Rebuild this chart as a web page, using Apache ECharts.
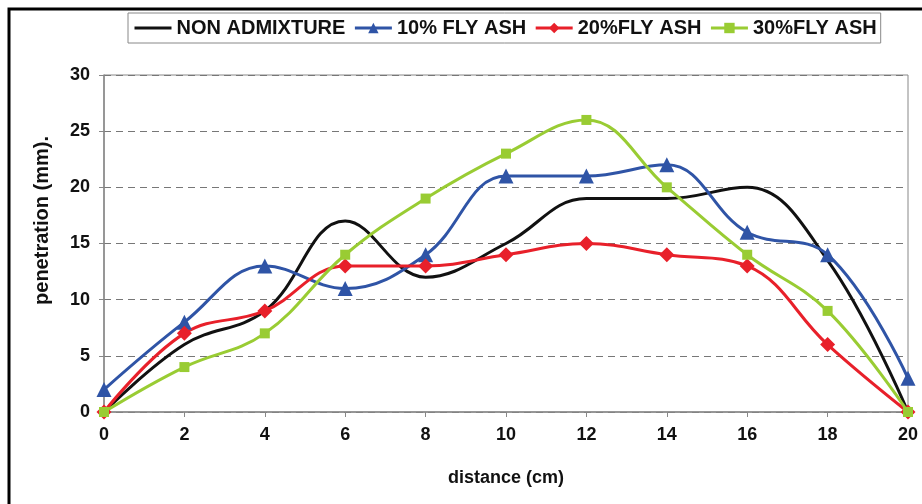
<!DOCTYPE html>
<html>
<head>
<meta charset="utf-8">
<script src="https://cdn.jsdelivr.net/npm/echarts@6/dist/echarts.min.js"></script>
<style>html,body{margin:0;padding:0;background:#fff}#c{width:922px;height:504px}</style>
</head>
<body>
<div id="c"></div>
<script>
const distances = [0, 2, 4, 6, 8, 10, 12, 14, 16, 18, 20];
const nonAdmixture = [0, 6, 9, 17, 12, 15, 19, 19, 20, 13.5, 0];
const flyAsh10 = [2, 8, 13, 11, 14, 21, 21, 22, 16, 14, 3];
const flyAsh20 = [0, 7, 9, 13, 13, 14, 15, 14, 13, 6, 0];
const flyAsh30 = [0, 4, 7, 14, 19, 23, 26, 20, 14, 9, 0];
const seriesNames = ['NON ADMIXTURE', '10% FLY ASH', '20%FLY ASH', '30%FLY ASH'];
const xTicks = [0, 20, 2];
const yTicks = [0, 30, 5];

const pair = arr => distances.map((d, i) => [d, arr[i]]);
const font = 'Liberation Sans, Arial, sans-serif';

const chart = echarts.init(document.getElementById('c'), null, {renderer: 'canvas'});
const mk = (name, data, color, symbol, size) => ({
  name, type: 'line', data: pair(data), smooth: 0.4, clip: false,
  symbol, symbolSize: size, showSymbol: symbol !== 'none',
  lineStyle: {color, width: 3}, itemStyle: {color},
  emphasis: {disabled: true}
});
chart.setOption({
  animation: false,
  backgroundColor: '#fff',
  graphic: [{
    type: 'polyline', silent: true,
    shape: {points: [[9, 504], [9, 9], [922, 9]]},
    style: {stroke: '#000', lineWidth: 3, fill: null}
  }],
  legend: {
    left: 128, top: 13,
    data: [
      {name: seriesNames[0], itemStyle: {opacity: 0}},
      {name: seriesNames[1]},
      {name: seriesNames[2]},
      {name: seriesNames[3]}
    ],
    orient: 'horizontal',
    itemWidth: 37, itemHeight: 13, itemGap: 8,
    padding: [5, 4, 5, 5],
    borderColor: '#888', borderWidth: 1,
    lineStyle: {width: 3},
    textStyle: {fontFamily: font, fontWeight: 'bold', fontSize: 20, color: '#111'}
  },
  grid: {left: 104, right: 14, top: 75, bottom: 92, show: true, borderColor: '#888', borderWidth: 1},
  xAxis: {
    type: 'value', min: xTicks[0], max: xTicks[1], interval: xTicks[2],
    name: 'distance (cm)', nameLocation: 'middle', nameGap: 57,
    nameTextStyle: {fontFamily: font, fontWeight: 'bold', fontSize: 18, color: '#111'},
    axisLine: {lineStyle: {color: '#888', width: 1.5}},
    axisTick: {show: true, inside: false, length: 5, lineStyle: {color: '#888'}},
    axisLabel: {fontFamily: font, fontWeight: 'bold', fontSize: 18, color: '#111', margin: 14},
    splitLine: {show: false}
  },
  yAxis: {
    type: 'value', min: yTicks[0], max: yTicks[1], interval: yTicks[2],
    name: 'penetration (mm).', nameLocation: 'middle', nameGap: 52, nameRotate: 90,
    nameTextStyle: {fontFamily: font, fontWeight: 'bold', fontSize: 20, color: '#111', padding: [0, 0, 0, 46]},
    axisLine: {show: true, lineStyle: {color: '#888', width: 1.5}},
    axisTick: {show: true, inside: false, length: 5, lineStyle: {color: '#888'}},
    axisLabel: {fontFamily: font, fontWeight: 'bold', fontSize: 18, color: '#111', margin: 14},
    splitLine: {show: true, lineStyle: {color: '#777', type: [7, 5], width: 1}}
  },
  series: [
    mk(seriesNames[0], nonAdmixture, '#111111', 'none', 0),
    mk(seriesNames[1], flyAsh10, '#2F54A6', 'triangle', 15),
    mk(seriesNames[2], flyAsh20, '#E8202A', 'diamond', 15),
    mk(seriesNames[3], flyAsh30, '#99CC33', 'rect', 10)
  ]
});
</script>
</body>
</html>
